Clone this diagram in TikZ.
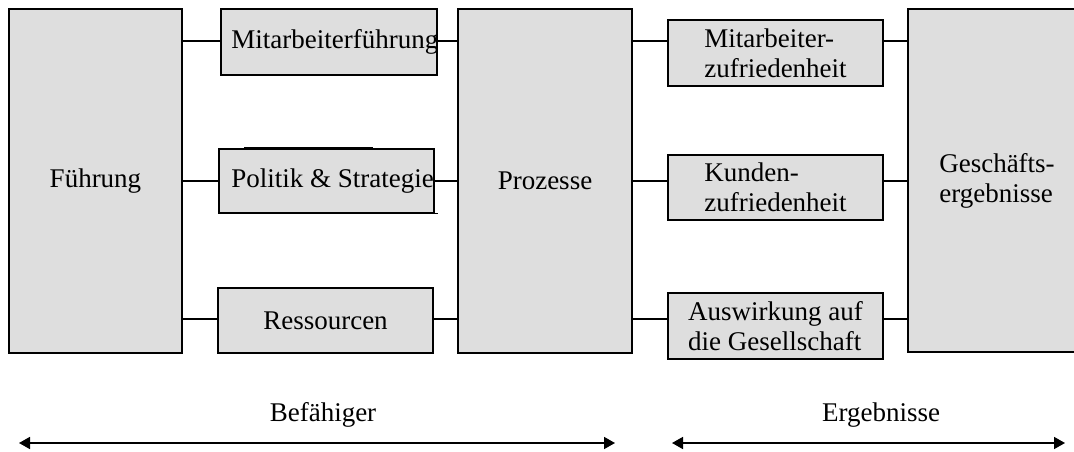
\documentclass[tikz,border=0pt]{standalone}
\usepackage{fontspec}
\setmainfont{Liberation Serif}
\usetikzlibrary{arrows.meta,calc}
\definecolor{boxfill}{RGB}{222,222,222}
\tikzset{
  box/.style={draw=black, fill=boxfill, line width=1.6pt, inner sep=0pt, rectangle,
    font=\fontsize{27}{30}\selectfont, align=left},
  lbl/.style={inner sep=0pt, font=\fontsize{27}{30}\selectfont},
  conn/.style={line width=1.6pt},
  span/.style={line width=1.6pt, {Triangle[length=11pt,width=12pt]}-{Triangle[length=11pt,width=12pt]}}
}
\begin{document}
\begin{tikzpicture}[x=1pt,y=-1pt]
\clip (0,0) rectangle (1074,452);
\useasboundingbox (0,0) rectangle (1074,452);
% row levels for connectors
\coordinate (r1) at (0,41);
\coordinate (r2) at (0,181);
\coordinate (r3) at (0,319);
% big boxes
\node[box, minimum width=173pt, minimum height=344pt] (fue) at (95.5,181) {Führung};
\node[box, minimum width=174pt, minimum height=344pt] (proz) at (545,181) {Prozesse};
\node[box, minimum width=178pt, minimum height=343pt] (ge) at (997,180.5) {Geschäfts-\\ergebnisse};
% enabler boxes
\node[box, minimum width=216pt, minimum height=66pt] (mf) at (329,42) {};
\node[box, minimum width=215pt, minimum height=64pt] (ps) at (326.5,181) {};
\node[box, minimum width=215pt, minimum height=65pt] (res) at (325.5,320.5) {Ressourcen};
\node[lbl, anchor=west] (mft) at ($(mf.west)+(11,0)$) {Mitarbeiterführung};
\node[lbl, anchor=west] (pst) at ($(ps.west)+(13,0)$) {Politik \& Strategie};
\draw[line width=1pt] (244,147) -- (373,147);
\draw[line width=1pt] (ps.south east) -- ++(3,0);
% result boxes
\node[box, minimum width=215pt, minimum height=66pt] (mz) at (775.5,53) {Mitarbeiter-\\zufriedenheit};
\node[box, minimum width=215pt, minimum height=65pt] (kz) at (775.5,187.5) {Kunden-\\zufriedenheit};
\node[box, minimum width=215pt, minimum height=66pt] (ag) at (775.5,326) {Auswirkung auf\\die Gesellschaft};
% connectors
\draw[conn] (fue.east |- r1) -- (mf.west |- r1);
\draw[conn] (fue.east |- r2) -- (ps.west |- r2);
\draw[conn] (fue.east |- r3) -- (res.west |- r3);
\draw[conn] (mf.east |- r1) -- (proz.west |- r1);
\draw[conn] (ps.east |- r2) -- (proz.west |- r2);
\draw[conn] (res.east |- r3) -- (proz.west |- r3);
\draw[conn] (proz.east |- r1) -- (mz.west |- r1);
\draw[conn] (proz.east |- r2) -- (kz.west |- r2);
\draw[conn] (proz.east |- r3) -- (ag.west |- r3);
\draw[conn] (mz.east |- r1) -- (ge.west |- r1);
\draw[conn] (kz.east |- r2) -- (ge.west |- r2);
\draw[conn] (ag.east |- r3) -- (ge.west |- r3);
% bottom spans
\node[lbl, anchor=base] (bef) at (323,421) {Befähiger};
\node[lbl, anchor=base] (erg) at (881,421) {Ergebnisse};
\coordinate (a1) at (19,443);
\coordinate (a2) at (615,443);
\coordinate (b1) at (672,443);
\coordinate (b2) at (1065,443);
\draw[span] (a1) -- (a2);
\draw[span] (b1) -- (b2);
\end{tikzpicture}
\end{document}
